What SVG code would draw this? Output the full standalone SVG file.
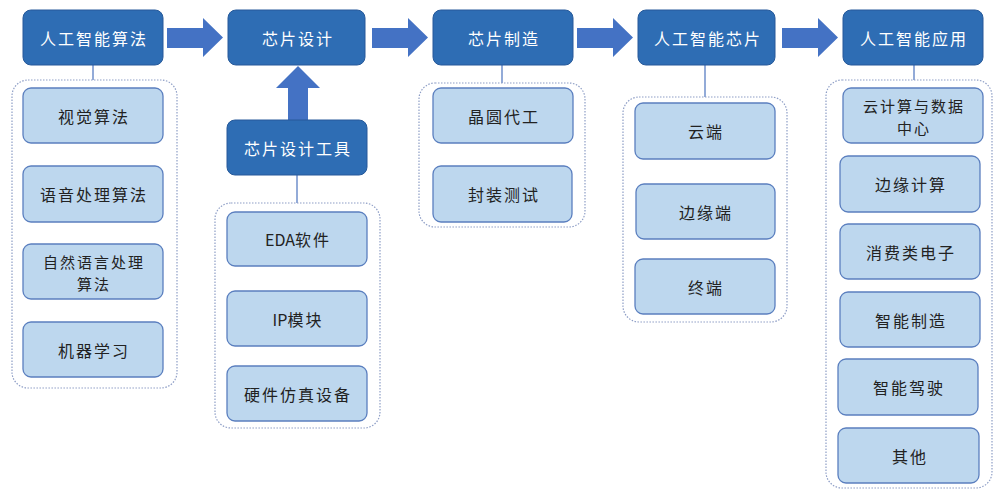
<svg xmlns="http://www.w3.org/2000/svg" width="997" height="491" viewBox="0 0 997 491">
<style>
.top{fill:#2E6DB4;stroke:#26599a;stroke-width:1}
.sub{fill:#BDD7EE;stroke:#5B7FBF;stroke-width:1.3}
.grp{fill:#fff;stroke:#8E9EC6;stroke-width:1.2;stroke-dasharray:1.5 1.5}
.arr{fill:#4472C4}
.ln{stroke:#6F8FCB;stroke-width:1.5;fill:none}
text{font-family:"Noto Sans CJK SC","Liberation Sans",sans-serif;font-size:16px;text-anchor:middle;dominant-baseline:central;letter-spacing:2px}
.tt{fill:#fff}
.st{fill:#222}
.lat{letter-spacing:0}
</style>
<rect width="997" height="491" fill="#fff"/>
<g id="connectors">
<line class="ln" x1="93" y1="65" x2="93" y2="80"/>
<line class="ln" x1="297" y1="175" x2="297" y2="203"/>
<line class="ln" x1="502" y1="65" x2="502" y2="83"/>
<line class="ln" x1="705" y1="65" x2="705" y2="97"/>
<line class="ln" x1="914" y1="65" x2="914" y2="80"/>
<polygon class="arr" points="167,28 203,28 203,18 223,37.5 203,57 203,48 167,48"/>
<polygon class="arr" points="372,28 408,28 408,18 428,37.5 408,57 408,48 372,48"/>
<polygon class="arr" points="577,28 613,28 613,18 633,37.5 613,57 613,48 577,48"/>
<polygon class="arr" points="782,28 818,28 818,18 838,37.5 818,57 818,48 782,48"/>
<polygon class="arr" points="288,120 288,88 276,88 298,66 320,88 308,88 308,120"/>
</g>
<g id="grp-algo"><rect class="grp" x="12" y="80" width="165" height="308" rx="16"/></g>
<g id="grp-tools"><rect class="grp" x="215" y="203" width="165" height="225" rx="16"/></g>
<g id="grp-fab"><rect class="grp" x="419" y="83" width="166" height="144" rx="16"/></g>
<g id="grp-chip"><rect class="grp" x="623" y="97" width="164" height="225" rx="16"/></g>
<g id="grp-app"><rect class="grp" x="826" y="80" width="166" height="408" rx="16"/></g>

<g id="n-algo"><rect class="top" x="23" y="10" width="140" height="55" rx="8"/><text class="tt" x="94" y="38">人工智能算法</text></g>
<g id="n-design"><rect class="top" x="228" y="10" width="137" height="55" rx="8"/><text class="tt" x="298" y="38">芯片设计</text></g>
<g id="n-fab"><rect class="top" x="433" y="10" width="140" height="55" rx="8"/><text class="tt" x="504" y="38">芯片制造</text></g>
<g id="n-chip"><rect class="top" x="638" y="10" width="137" height="55" rx="8"/><text class="tt" x="708" y="38">人工智能芯片</text></g>
<g id="n-app"><rect class="top" x="843" y="10" width="140" height="55" rx="8"/><text class="tt" x="914" y="38">人工智能应用</text></g>
<g id="n-tools"><rect class="top" x="227" y="120" width="140" height="55" rx="8"/><text class="tt" x="298" y="148">芯片设计工具</text></g>

<g id="n-vision"><rect class="sub" x="23" y="88" width="140" height="55" rx="8"/><text class="st" x="94" y="116">视觉算法</text></g>
<g id="n-speech"><rect class="sub" x="23" y="166" width="140" height="56" rx="8"/><text class="st" x="94" y="194">语音处理算法</text></g>
<g id="n-nlp"><rect class="sub" x="23" y="244" width="140" height="55" rx="8"/><text class="st" x="94" y="261" style="font-size:15px">自然语言处理<tspan x="94" dy="22">算法</tspan></text></g>
<g id="n-ml"><rect class="sub" x="23" y="322" width="140" height="55" rx="8"/><text class="st" x="94" y="350">机器学习</text></g>

<g id="n-eda"><rect class="sub" x="227" y="212" width="140" height="54" rx="8"/><text class="st" x="298" y="239"><tspan class="lat">EDA</tspan>软件</text></g>
<g id="n-ip"><rect class="sub" x="227" y="291" width="140" height="55" rx="8"/><text class="st" x="298" y="319"><tspan class="lat">IP</tspan>模块</text></g>
<g id="n-hw"><rect class="sub" x="227" y="366" width="140" height="55" rx="8"/><text class="st" x="298" y="394">硬件仿真设备</text></g>

<g id="n-wafer"><rect class="sub" x="433" y="88" width="140" height="55" rx="8"/><text class="st" x="504" y="116">晶圆代工</text></g>
<g id="n-pack"><rect class="sub" x="433" y="166" width="139" height="56" rx="8"/><text class="st" x="504" y="194">封装测试</text></g>

<g id="n-cloud"><rect class="sub" x="635" y="103" width="140" height="56" rx="8"/><text class="st" x="706" y="131">云端</text></g>
<g id="n-edge"><rect class="sub" x="636" y="184" width="139" height="55" rx="8"/><text class="st" x="706" y="212">边缘端</text></g>
<g id="n-term"><rect class="sub" x="635" y="259" width="140" height="55" rx="8"/><text class="st" x="706" y="287">终端</text></g>

<g id="n-dc"><rect class="sub" x="843" y="88" width="140" height="55" rx="8"/><text class="st" x="914" y="105" style="font-size:15px">云计算与数据<tspan x="914" dy="22">中心</tspan></text></g>
<g id="n-ec"><rect class="sub" x="840" y="156" width="140" height="56" rx="8"/><text class="st" x="911" y="184">边缘计算</text></g>
<g id="n-ce"><rect class="sub" x="840" y="224" width="140" height="55" rx="8"/><text class="st" x="911" y="252">消费类电子</text></g>
<g id="n-im"><rect class="sub" x="840" y="292" width="140" height="55" rx="8"/><text class="st" x="911" y="320">智能制造</text></g>
<g id="n-ad"><rect class="sub" x="838" y="359" width="140" height="56" rx="8"/><text class="st" x="909" y="387">智能驾驶</text></g>
<g id="n-other"><rect class="sub" x="838" y="428" width="141" height="55" rx="8"/><text class="st" x="910" y="456">其他</text></g>
</svg>
